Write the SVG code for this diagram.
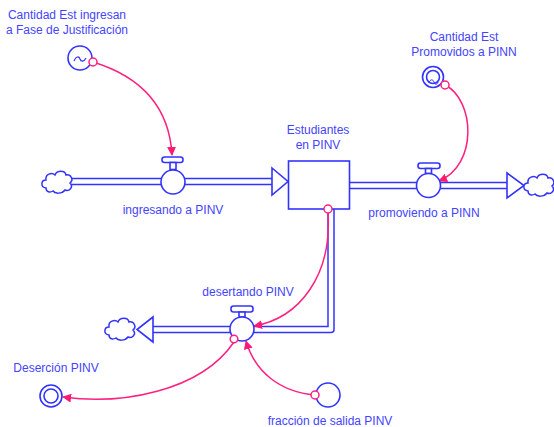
<svg xmlns="http://www.w3.org/2000/svg" width="554" height="427" viewBox="0 0 554 427">
<style>
text{font-family:"Liberation Sans",Arial,sans-serif;font-size:12px;fill:#4444ff;text-anchor:middle}
.pipeo{fill:none;stroke:#3333ff;stroke-width:7.5;stroke-linejoin:round}
.pipei{fill:none;stroke:#fff;stroke-width:4.5;stroke-linejoin:round}
.sh{fill:#fff;stroke:#3333ff;stroke-width:1.6}
.cn{fill:none;stroke:#ff2080;stroke-width:1.5}
.pc{fill:#fff;stroke:#ff2080;stroke-width:1.5}
</style>
<defs>
<marker id="ah" viewBox="0 0 10 10" refX="9" refY="5" markerWidth="9" markerHeight="9" markerUnits="userSpaceOnUse" orient="auto">
<path d="M0,0 L10,5 L0,10 z" fill="#ff1a75"/>
</marker>
<g id="cloud">
<path d="M4,18 C-2,17 -1,10 4,10 C3,4 10,2 13,5 C15,0 23,0 24,5 C29,4 32,10 28,13 C32,17 27,22 23,20 C20,24 13,24 11,21 C8,23 4,22 4,18 z" fill="#fff" stroke="#3333ff" stroke-width="1.5"/>
</g>
</defs>

<g id="connectors">
<!-- pipes -->
<path class="pipeo" d="M70,181.5 H275"/><path class="pipei" d="M70,181.5 H276"/>
<path class="pipeo" d="M349,185.5 H509"/><path class="pipei" d="M348,185.5 H510"/>
<path class="pipeo" d="M331,208 V329.5 H150"/><path class="pipei" d="M331,207 V329.5 H149"/>
<!-- pipe arrowheads -->
<path class="sh" d="M272,168 L288,181.5 L272,195 z"/>
<path class="sh" d="M507,173 L524,185.5 L507,198 z"/>
<path class="sh" d="M153,317 L137,329.5 L153,342 z"/>
<!-- info links -->
<path class="cn" d="M93,62 Q168,85 172,155" marker-end="url(#ah)"/>
<path class="cn" d="M445,85 C475,100 478,165 439,181" marker-end="url(#ah)"/>
<path class="cn" d="M328,213 C332,275 300,318 254,326" marker-end="url(#ah)"/>
<path class="cn" d="M234,342 C200,392 120,405 63,397" marker-end="url(#ah)"/>
<path class="cn" d="M315,395 C280,392 255,372 246,341" marker-end="url(#ah)"/>
</g>

<g id="cloud-in"><use href="#cloud" x="42" y="170"/></g>
<g id="cloud-out"><use href="#cloud" x="524" y="173"/></g>
<g id="cloud-des"><use href="#cloud" x="105" y="317"/></g>

<g id="stock">
<rect x="288.5" y="161" width="61" height="48" class="sh"/>
<text x="318" y="134">Estudiantes</text>
<text x="318" y="149">en PINV</text>
<circle cx="328" cy="209" r="4" class="pc"/>
</g>

<g id="ingresando">
<rect x="162" y="157" width="21" height="5.5" rx="2.5" class="sh"/>
<rect x="170" y="162.5" width="6" height="7" class="sh"/>
<circle cx="173" cy="182" r="12" class="sh"/>
<text x="173" y="214">ingresando a PINV</text>
</g>

<g id="promoviendo">
<rect x="418" y="163" width="22" height="5.5" rx="2.5" class="sh"/>
<rect x="425.5" y="168.5" width="6" height="5" class="sh"/>
<circle cx="428.5" cy="185.5" r="12" class="sh"/>
<text x="424" y="217">promoviendo a PINN</text>
</g>

<g id="desertando">
<rect x="231" y="306" width="22" height="6" rx="2.5" class="sh"/>
<rect x="239" y="312" width="6" height="5" class="sh"/>
<circle cx="242" cy="329" r="12" class="sh"/>
<text x="248" y="296">desertando PINV</text>
<circle cx="234" cy="339" r="3.8" class="pc"/>
</g>

<g id="cantidad-ingresan">
<circle cx="80" cy="58" r="12" class="sh"/>
<path d="M74,61 C76,56 79,56 80,59 C81,62 84,62 86,58" fill="none" stroke="#3333ff" stroke-width="1.2"/>
<circle cx="93" cy="62" r="4" class="pc"/>
<text x="67" y="19">Cantidad Est ingresan</text>
<text x="67" y="34">a Fase de Justificación</text>
</g>

<g id="cantidad-promovidos">
<circle cx="433" cy="77" r="10.5" class="sh"/>
<circle cx="433" cy="77" r="6.5" class="sh"/>
<path d="M429,83 C430,79 433,79 434,82 C435,85 437,85 438,82" fill="none" stroke="#3333ff" stroke-width="1"/>
<circle cx="445" cy="85" r="4" class="pc"/>
<text x="464" y="41">Cantidad Est</text>
<text x="464" y="56">Promovidos a PINN</text>
</g>

<g id="desercion">
<circle cx="51" cy="396" r="11" class="sh"/>
<circle cx="51" cy="396" r="7" class="sh"/>
<text x="56" y="372">Deserción PINV</text>
</g>

<g id="fraccion">
<circle cx="328" cy="395" r="12" class="sh"/>
<circle cx="315" cy="395" r="4" class="pc"/>
<text x="330" y="425">fracción de salida PINV</text>
</g>
</svg>
